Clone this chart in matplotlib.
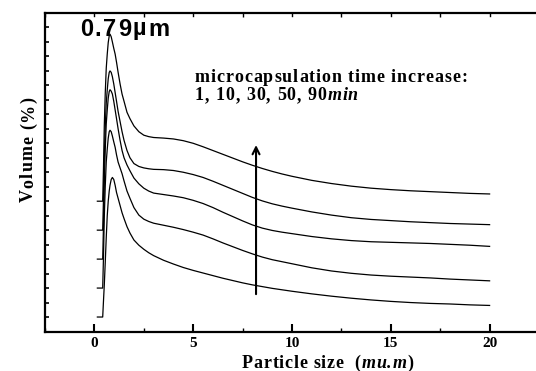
import matplotlib
matplotlib.use("Agg")
import matplotlib.pyplot as plt
from matplotlib import font_manager, ft2font
import numpy as np

# ---------------- data ----------------
particle_size = [0.15, 0.42, 0.46, 0.50, 0.55, 0.60, 0.65, 0.70, 0.75, 0.79, 0.85, 0.91,
                 0.98, 1.05, 1.12, 1.2, 1.3, 1.4, 1.5, 1.65, 1.8, 2.0, 2.25, 2.5, 2.75,
                 3.0, 3.5, 4.0, 4.5, 5.0, 5.5, 6.0, 6.5, 7.0, 7.5, 8.0, 8.5, 9.0, 9.5,
                 10, 11, 12, 13, 14, 15, 16, 17, 18, 19, 20]

# volume (%) for each microcapsulation time; curves are stacked with offsets
vol_1min = [0, 0, 0.56, 1.1, 1.9, 2.75, 3.5, 4.0, 4.35, 4.55, 4.75, 4.82,
            4.75, 4.55, 4.3, 4.1, 3.85, 3.6, 3.4, 3.12, 2.9, 2.66, 2.48, 2.34, 2.22,
            2.12, 1.96, 1.83, 1.71, 1.61, 1.52, 1.43, 1.34, 1.26, 1.18, 1.11, 1.05, 0.99, 0.94,
            0.89, 0.80, 0.72, 0.65, 0.59, 0.54, 0.50, 0.47, 0.45, 0.42, 0.40]
vol_10min = [0, 0, 1.09, 2.45, 3.54, 4.36, 4.8, 5.18, 5.4, 5.45, 5.4, 5.25,
             5.05, 4.86, 4.6, 4.35, 4.15, 3.95, 3.7, 3.35, 3.1, 2.78, 2.52, 2.38, 2.3,
             2.24, 2.17, 2.10, 2.02, 1.93, 1.83, 1.70, 1.56, 1.43, 1.30, 1.18, 1.07, 0.98, 0.91,
             0.84, 0.70, 0.59, 0.51, 0.45, 0.41, 0.38, 0.35, 0.31, 0.28, 0.25]
vol_30min = [0, 0, 1.17, 2.63, 3.8, 4.68, 5.15, 5.56, 5.79, 5.85, 5.8, 5.7,
             5.45, 5.15, 4.85, 4.5, 4.1, 3.75, 3.5, 3.25, 3.05, 2.8, 2.6, 2.45, 2.35,
             2.28, 2.23, 2.18, 2.12, 2.03, 1.92, 1.78, 1.62, 1.47, 1.32, 1.18, 1.07, 0.99, 0.93,
             0.88, 0.78, 0.70, 0.64, 0.60, 0.58, 0.56, 0.54, 0.51, 0.48, 0.44]
vol_50min = [0, 0, 1.1, 2.48, 3.58, 4.4, 4.84, 5.23, 5.45, 5.5, 5.45, 5.3,
             5.05, 4.75, 4.45, 4.1, 3.75, 3.4, 3.1, 2.75, 2.5, 2.3, 2.2, 2.15, 2.12,
             2.10, 2.09, 2.06, 2.0, 1.92, 1.82, 1.69, 1.55, 1.41, 1.27, 1.13, 1.01, 0.91, 0.83,
             0.76, 0.63, 0.52, 0.43, 0.37, 0.33, 0.29, 0.26, 0.23, 0.21, 0.19]
vol_90min = [0, 0, 1.15, 2.6, 3.75, 4.6, 5.08, 5.48, 5.71, 5.77, 5.68, 5.5,
             5.28, 5.08, 4.8, 4.45, 4.05, 3.7, 3.45, 3.07, 2.85, 2.6, 2.4, 2.28, 2.23,
             2.20, 2.18, 2.15, 2.09, 2.0, 1.88, 1.75, 1.62, 1.49, 1.36, 1.24, 1.13, 1.03, 0.94,
             0.86, 0.72, 0.61, 0.52, 0.45, 0.40, 0.36, 0.33, 0.30, 0.27, 0.25]

series = [vol_1min, vol_10min, vol_30min, vol_50min, vol_90min]
offsets = [0, 1, 2, 3, 4]

x_ticks = [0, 5, 10, 15, 20]
x_tick_labels = ["0", "5", "10", "15", "20"]

# ---------------- figure ----------------
W, H = 536, 371
DPI = 100
fig = plt.figure(figsize=(W / DPI, H / DPI), dpi=DPI)
ax = fig.add_axes([45 / W, (H - 331.5) / H, (539 - 45) / W, (331.5 - 13) / H])

SERIF = "Liberation Serif"
SANS = "Liberation Sans"

for vals, off in zip(series, offsets):
    ax.plot(particle_size, np.array(vals) + off, color="black", lw=0.9)

ax.set_xlim(-2.5, 22.5)
ax.set_ylim(-0.5, 10.5)

ax.set_xticks(x_ticks)
ax.set_xticklabels(x_tick_labels, fontfamily=SERIF, fontweight="bold", fontsize=11)
ax.set_xticks(np.arange(-2.5, 22.6, 2.5), minor=True)
ax.set_yticks(np.arange(0, 10.6, 1))
ax.set_yticks(np.arange(-0.5, 10.6, 1), minor=True)
ax.set_yticklabels([])
ax.tick_params(axis="x", which="major", direction="in", length=6, width=1.5,
               top=False, bottom=True, pad=4)
ax.tick_params(axis="x", which="minor", direction="in", length=3, width=1,
               top=True, bottom=True)
ax.tick_params(axis="y", which="both", direction="in", length=3, width=1.2,
               left=True, right=False)
for s in ax.spines.values():
    s.set_linewidth(1.6)
# small ticks on the top spine at the major positions as well
for xt in x_ticks:
    ax.plot([xt, xt], [10.5, 10.4], color="black", lw=1, clip_on=False)


# ---------------- letter-spaced text helper ----------------
_font_cache = {}


def _advance(ch, family, italic, size):
    key = (family, italic, size)
    if key not in _font_cache:
        fp = font_manager.FontProperties(family=family, weight="bold",
                                         style="italic" if italic else "normal")
        f = ft2font.FT2Font(font_manager.findfont(fp))
        f.set_size(size, DPI)
        _font_cache[key] = f
    f = _font_cache[key]
    g = f.load_char(ord(ch))
    return g.linearHoriAdvance / 65536.0


def spaced_text(parts, x_px, y_px, target_px, size, family=SERIF, rotation=0):
    chars = [(c, it) for txt, it in parts for c in txt]
    advs = [_advance(c, family, it, size) for c, it in chars]
    natural = sum(advs)
    spacing = (target_px - natural) / max(len(chars) - 1, 1)
    pos = 0.0
    for (c, it), a in zip(chars, advs):
        if rotation == 0:
            fx, fy = (x_px + pos) / W, 1 - y_px / H
        else:
            fx, fy = x_px / W, 1 - (y_px - pos) / H
        fig.text(fx, fy, c, fontfamily=family, fontweight="bold",
                 fontstyle="italic" if it else "normal", fontsize=size,
                 ha="left", va="baseline", rotation=rotation, rotation_mode="anchor")
        pos += a + spacing


# annotations
spaced_text([("0.79\u00b5m", False)], 80, 35.5, 89, 17, family=SANS)
spaced_text([("microcapsulation time increase:", False)], 195, 82.5, 272, 13)
spaced_text([("1, 10, 30, 50, 90", False), ("min", True)], 195, 100, 163, 13)

ax.annotate("", xy=(8.18, 5.94), xytext=(8.18, 0.79),
            arrowprops=dict(arrowstyle="->,head_length=0.5,head_width=0.25",
                            lw=1.5, color="black", shrinkA=0, shrinkB=0))

# axis labels
spaced_text([("Particle size  (", False), ("mu.m", True), (")", False)],
            242, 367.5, 171, 13)
spaced_text([("Volume (%)", False)], 33, 202, 105, 13, rotation=90)

fig.savefig("out.png", dpi=DPI)
